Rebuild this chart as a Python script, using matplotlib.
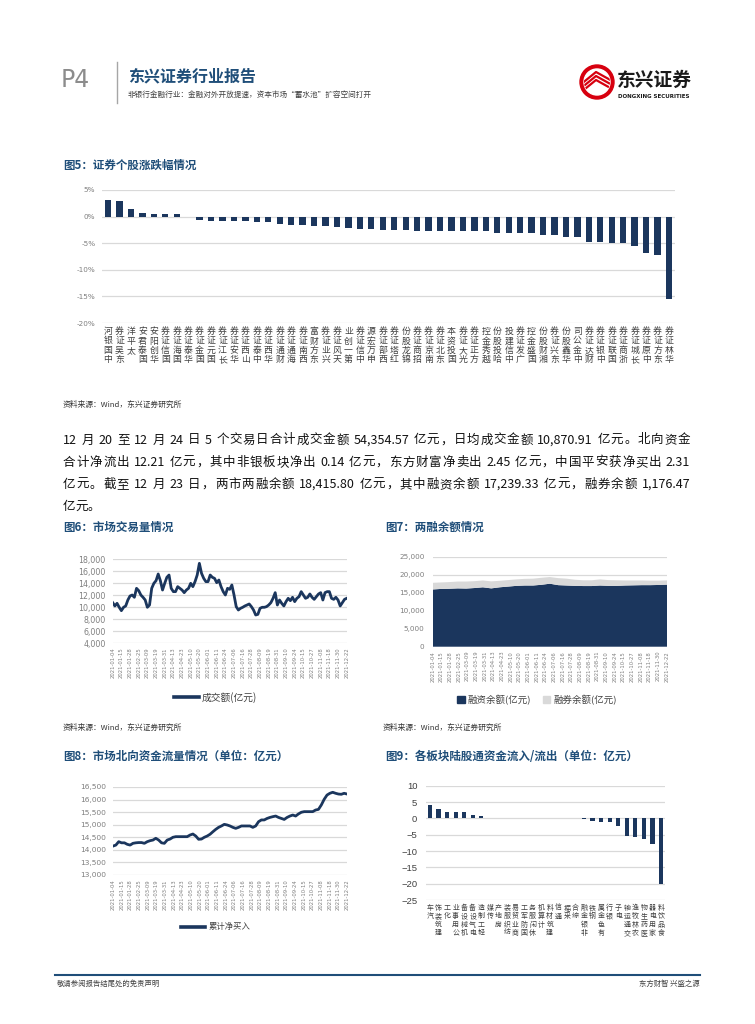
import re
import numpy as np
import matplotlib
matplotlib.use('Agg')
import matplotlib.pyplot as plt
from matplotlib.patches import Circle, Patch
from matplotlib.lines import Line2D
from matplotlib.textpath import TextToPath
from matplotlib.font_manager import FontProperties

plt.rcParams['font.family'] = ['Noto Sans CJK SC', 'DejaVu Sans']

# ---- data ----
brokers5 = ["中国银河", "东吴证券", "太平洋", "国泰君安", "华创阳安", "国信证券", "国海证券", "华泰证券",
            "国金证券", "国元证券", "长江证券", "华安证券", "山西证券", "中泰证券", "华西证券", "财通证券",
            "海通证券", "西南证券", "东方财富", "兴业证券", "天风证券", "第一创业", "中信证券", "申万宏源",
            "西部证券", "红塔证券", "锦龙股份", "招商证券", "南京证券", "东北证券", "国投资本", "光大证券",
            "方正证券", "越秀金控", "哈投股份", "中信建投", "广发证券", "国盛金控", "湘财股份", "东兴证券",
            "华鑫股份", "中金公司", "财达证券", "中银证券", "国联证券", "浙商证券", "长城证券", "中原证券",
            "东方证券", "华林证券"]
chg5 = [3.1, 2.9, 1.4, 0.7, 0.55, 0.4, 0.4, 0.0,
        -0.6, -0.75, -0.75, -0.75, -0.9, -1.1, -1.1, -1.3,
        -1.5, -1.5, -1.7, -1.7, -2.0, -2.1, -2.25, -2.25,
        -2.5, -2.55, -2.55, -2.7, -2.7, -2.8, -2.8, -2.8,
        -2.8, -2.8, -3.0, -3.0, -3.1, -3.1, -3.5, -3.5,
        -3.8, -3.8, -4.7, -4.7, -4.9, -4.9, -5.6, -6.75,
        -7.25, -15.4]

date_ticks = ["2021-01-04", "2021-01-15", "2021-01-28", "2021-02-25", "2021-03-09", "2021-03-19",
              "2021-03-31", "2021-04-13", "2021-04-23", "2021-05-10", "2021-05-20", "2021-06-01",
              "2021-06-11", "2021-06-24", "2021-07-06", "2021-07-16", "2021-07-28", "2021-08-09",
              "2021-08-19", "2021-08-31", "2021-09-10", "2021-09-24", "2021-10-15", "2021-10-27",
              "2021-11-08", "2021-11-18", "2021-11-30", "2021-12-22"]

turnover6 = [10750, 10200, 10640, 9980, 9420, 9980, 10200, 11190, 11860, 12020, 11640, 13130, 12740,
             12020, 11640, 11190, 9980, 10360, 13130, 13960, 14400, 15510, 14400, 12850, 13960, 14960,
             15340, 13130, 12580, 12580, 13410, 13130, 12850, 12410, 12850, 13130, 13960, 13410, 14240,
             15340, 17280, 15620, 14790, 14240, 14240, 15340, 14960, 14790, 14070, 14510, 13410, 12580,
             12020, 13130, 12960, 13680, 12020, 10090, 9530, 9810, 9980, 10200, 10360, 10530, 10090,
             9530, 8700, 8810, 9810, 9980, 9980, 10090, 10360, 10750, 11470, 12410, 10360, 11190, 10640,
             10200, 10920, 11470, 11080, 11640, 10920, 11470, 11750, 12580, 12020, 11470, 11640, 12190,
             11640, 11300, 11750, 12190, 12410, 11190, 12410, 12580, 12580, 11470, 11300, 11640, 11190,
             10200, 10750, 11300, 11470]

margin_fin7 = [15900, 16050, 16100, 16200, 16150, 16300, 16500, 16200, 16500, 16700, 16900, 17000,
               17000, 17200, 17500, 17100, 17000, 16900, 16850, 16850, 17000, 16900, 16900, 17000,
               17050, 17100, 17100, 17150, 17240]
margin_lend7 = [1850, 1800, 1850, 1900, 1950, 1900, 1900, 1950, 1800, 1800, 1800, 1850, 1900, 1950,
                1850, 1950, 1900, 1700, 1600, 1600, 1700, 1600, 1550, 1400, 1350, 1300, 1250, 1200, 1180]

northbound8 = [14150, 14190, 14325, 14280, 14280, 14220, 14190, 14260, 14280, 14290, 14290, 14260,
               14325, 14365, 14390, 14460, 14390, 14280, 14260, 14390, 14430, 14500, 14525, 14525,
               14525, 14525, 14525, 14590, 14630, 14550, 14420, 14430, 14500, 14550, 14620, 14720,
               14815, 14895, 14950, 15015, 14990, 14950, 14895, 14855, 14895, 14950, 14950, 14950,
               14950, 14895, 14950, 15120, 15190, 15190, 15250, 15290, 15320, 15345, 15290, 15250,
               15210, 15290, 15345, 15385, 15345, 15430, 15495, 15520, 15520, 15520, 15520, 15585,
               15610, 15785, 16010, 16180, 16250, 16290, 16250, 16220, 16210, 16250, 16220]

sectors9 = ["汽车", "建筑装饰", "化工", "公用事业", "机械设备", "电气设备", "轻工制造", "传媒",
            "房地产", "纺织服装", "商业贸易", "国防军工", "休闲服务", "计算机", "建筑材料", "通信",
            "采掘", "综合", "非银金融", "钢铁", "有色金属", "银行", "电子", "交通运输",
            "农林牧渔", "医药生物", "家用电器", "食品饮料"]
flow9 = [4.1, 2.75, 1.9, 1.9, 1.8, 1.1, 0.8, 0, 0, 0, 0, 0, 0, 0, 0, 0, 0, 0,
         -0.14, -0.9, -1.1, -1.1, -2.2, -5.3, -5.6, -6.2, -8.0, -20.2]

body_lines = [
    "12 月 20 至 12 月 24 日 5 个交易日合计成交金额 54,354.57 亿元，日均成交金额 10,870.91 亿元。北向资金",
    "合计净流出 12.21 亿元，其中非银板块净出 0.14 亿元，东方财富净卖出 2.45 亿元，中国平安获净买出 2.31",
    "亿元。截至 12 月 23 日，两市两融余额 18,415.80 亿元，其中融资余额 17,239.33 亿元，融券余额 1,176.47",
    "亿元。",
]

# ---- style ----
navy = '#1b365d'
title_blue = '#1f4e79'
grid_gray = '#d9d9d9'
tick_gray = '#7f7f7f'
num_font = ['DejaVu Sans']

W, H = 755, 1024
fig = plt.figure(figsize=(W / 100, H / 100), dpi=100)
bg = fig.add_axes([0, 0, 1, 1])
bg.set_xlim(0, W)
bg.set_ylim(H, 0)
bg.axis('off')


def box(l, t, r, b):
    ax = fig.add_axes([l / W, 1 - b / H, (r - l) / W, (b - t) / H])
    ax.patch.set_alpha(0)
    for s in ax.spines.values():
        s.set_visible(False)
    ax.tick_params(length=0)
    ax.yaxis.grid(True, color=grid_gray, lw=0.9)
    ax.set_axisbelow(True)
    return ax


def num_labels(ax, ticks, fmt, size, pad, color=tick_gray, family=num_font):
    ax.set_yticks(ticks)
    ax.set_yticklabels([fmt(v) for v in ticks], fontsize=size, color=color, family=family)
    ax.tick_params(axis='y', pad=pad)


def date_labels(ax, n):
    pos = np.linspace(0, n - 1, len(date_ticks))
    ax.set_xticks(pos)
    ax.set_xticklabels(date_ticks, rotation=90, fontsize=3.8, color=tick_gray, family=num_font)
    ax.tick_params(axis='x', pad=3)
    ax.set_xlim(0, n - 1)


def stacked_labels(ax, names, size):
    # upright characters, last one nearest the axis (as in the source chart)
    ax.set_xticks(np.arange(len(names)))
    ax.set_xticklabels(['\n'.join(n[::-1]) for n in names], fontsize=size, color='#404040')
    for t in ax.get_xticklabels():
        t.set_linespacing(1.05)
    ax.tick_params(axis='x', pad=3)


ttp = TextToPath()


def body_line(x0, x1, y, line, size, justify=True):
    prop = FontProperties(family=['Noto Sans CJK SC', 'DejaVu Sans'], size=size)
    units = re.findall(r'[0-9A-Za-z,.]+| |.', line)
    widths = [ttp.get_text_width_height_descent(u, prop, ismath=False)[0] * 100 / 72 for u in units]
    gap = (x1 - x0 - sum(widths)) / (len(units) - 1) if justify else 0
    x = x0
    for u, w in zip(units, widths):
        if u != ' ':
            bg.text(x, y, u, fontproperties=prop, va='center', ha='left', color='#111111')
        x += w + gap


# ---- header ----
bg.text(61, 80, "P4", fontsize=17, color='#8c8c8c', va='center', family='DejaVu Sans')
bg.plot([117, 117], [62, 103], color='#a6a6a6', lw=1)
bg.text(128, 76, "东兴证券行业报告", fontsize=11.5, weight='bold', color=title_blue, va='center')
bg.text(128, 95, "非银行金融行业：金融对外开放提速，资本市场“蓄水池”扩容空间打开",
        fontsize=5.5, color='#404040', va='center')

# logo
bg.add_patch(Circle((597, 82), 17, color='#d7000f'))
inner = Circle((597, 82), 13, color='white')
bg.add_patch(inner)
for k in range(3):
    ln, = bg.plot([580, 596, 614], [93 - 4 * k, 80 - 4 * k, 90 - 4 * k], color='#d7000f', lw=1.6)
    ln.set_clip_path(inner)
bg.text(617, 80, "东兴证券", fontsize=13.5, weight='heavy', color='#1a1a1a', va='center')
bg.text(618, 96.5, "DONGXING SECURITIES", fontsize=4.0, weight='bold', color='#1a1a1a',
        va='center', family='DejaVu Sans')

# ---- figure 5 ----
bg.text(63, 165, "图5：证券个股涨跌幅情况", fontsize=8.3, weight='bold', color=title_blue, va='center')
ax5 = box(102.3, 190, 674.7, 323)
x5 = np.arange(len(chg5))
ax5.bar(x5, chg5, width=0.55, color=navy, zorder=3)
ax5.set_xlim(-0.5, len(chg5) - 0.5)
ax5.set_ylim(-20, 5)
num_labels(ax5, [5, 0, -5, -10, -15, -20], lambda v: f"{v}%", 5.2, 5)
stacked_labels(ax5, brokers5, 6.4)
bg.text(63, 405, "资料来源：Wind，东兴证券研究所", fontsize=5.6, color='#333333', va='center')

# ---- paragraph ----
for i, line in enumerate(body_lines):
    body_line(63, 690, 440 + i * 22.3, line, 9.0, justify=i < len(body_lines) - 1)

# ---- figure 6 ----
bg.text(63, 527, "图6：市场交易量情况", fontsize=8.3, weight='bold', color=title_blue, va='center')
ax6 = box(112.7, 559, 346.7, 643.3)
ax6.plot(np.arange(len(turnover6)), turnover6, color=navy, lw=2.0)
ax6.set_ylim(4000, 18000)
num_labels(ax6, list(range(4000, 18001, 2000)), lambda v: f"{v:,}", 5.7, 5)
date_labels(ax6, len(turnover6))
ax6.legend([Line2D([], [], color=navy, lw=2.6)], ["成交额(亿元)"], loc='center',
           bbox_to_anchor=(0.44, -0.64), frameon=False, fontsize=7, handlelength=2.6,
           handletextpad=0.3, labelcolor='#404040')

# ---- figure 7 ----
bg.text(385, 527, "图7：两融余额情况", fontsize=8.3, weight='bold', color=title_blue, va='center')
ax7 = box(432.7, 556.7, 667, 646.7)
x7 = np.arange(len(margin_fin7))
ax7.stackplot(x7, margin_fin7, margin_lend7, colors=[navy, grid_gray], lw=0, zorder=3)
ax7.set_ylim(0, 25000)
num_labels(ax7, list(range(0, 25001, 5000)), lambda v: f"{v:,}", 5.2, 6)
date_labels(ax7, len(margin_fin7))
ax7.legend([Patch(color=navy), Patch(color=grid_gray)], ["融资余额(亿元)", "融券余额(亿元)"],
           loc='center', bbox_to_anchor=(0.445, -0.59), ncol=2, frameon=False, fontsize=6.8,
           handlelength=0.8, handleheight=0.8, handletextpad=0.3, columnspacing=1.2,
           labelcolor='#404040')

bg.text(63, 728, "资料来源：Wind，东兴证券研究所", fontsize=5.6, color='#333333', va='center')
bg.text(383, 728, "资料来源：Wind，东兴证券研究所", fontsize=5.6, color='#333333', va='center')

# ---- figure 8 ----
bg.text(63, 756, "图8：市场北向资金流量情况（单位：亿元）", fontsize=8.3, weight='bold',
        color=title_blue, va='center')
ax8 = box(113, 787, 347, 875)
ax8.plot(np.arange(len(northbound8)), northbound8, color=navy, lw=2.0)
ax8.set_ylim(13000, 16500)
num_labels(ax8, list(range(13000, 16501, 500)), lambda v: f"{v:,}", 5.4, 5)
date_labels(ax8, len(northbound8))
ax8.legend([Line2D([], [], color=navy, lw=2.6)], ["累计净买入"], loc='center',
           bbox_to_anchor=(0.44, -0.59), frameon=False, fontsize=6, handlelength=2.8,
           handletextpad=0.5, labelcolor='#404040')

# ---- figure 9 ----
bg.text(385, 756, "图9：各板块陆股通资金流入/流出（单位：亿元）", fontsize=8.3, weight='bold',
        color=title_blue, va='center')
ax9 = box(425.7, 785.7, 665.3, 900)
x9 = np.arange(len(flow9))
ax9.bar(x9, flow9, width=0.5, color=navy, zorder=3)
ax9.set_xlim(-0.5, len(flow9) - 0.5)
ax9.set_ylim(-25, 10)
num_labels(ax9, list(range(-25, 11, 5)), lambda v: f"{v}".replace('-', '\u2212'), 6.8, 6,
           color='#404040', family=['Liberation Sans', 'DejaVu Sans'])
stacked_labels(ax9, sectors9, 5.0)

# ---- footer ----
bg.plot([55, 700], [975, 975], color=title_blue, lw=1.5)
bg.text(57, 984, "敬请参阅报告结尾处的免责声明", fontsize=5.3, color='#404040', va='center')
bg.text(700, 984, "东方财智 兴盛之源", fontsize=5.3, color='#404040', va='center', ha='right')

fig.savefig('out.png', dpi=100)
